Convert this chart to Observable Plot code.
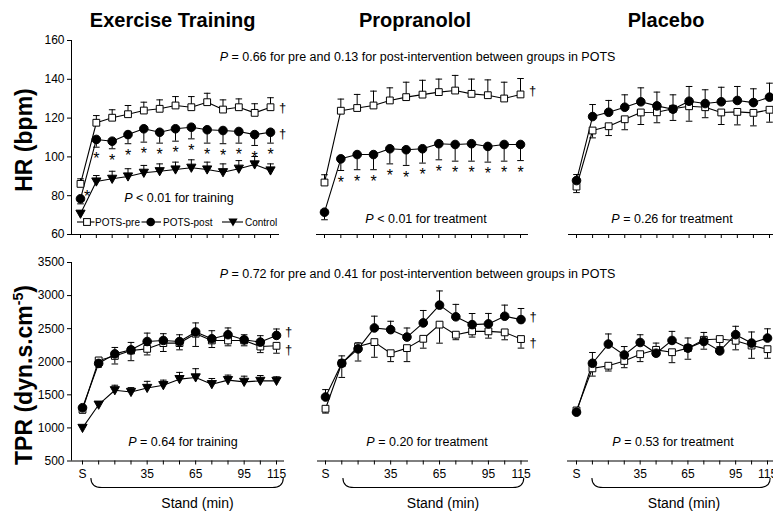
<!DOCTYPE html>
<html><head><meta charset="utf-8">
<script src="https://cdn.jsdelivr.net/npm/d3@7"></script>
<script src="https://cdn.jsdelivr.net/npm/@observablehq/plot@0.6"></script>
<style>
html,body{margin:0;padding:0;overflow:hidden;background:#fff;}
#wrap{position:relative;width:773px;height:514px;overflow:hidden;font-family:"Liberation Sans",Arial,Helvetica,sans-serif;color:#000;}
#wrap svg{position:absolute;left:0;top:0;}
.t{position:absolute;white-space:nowrap;line-height:1;transform:translate(-50%,-50%);}
</style></head>
<body><div id="wrap"></div>
<script>
// ---------- data ----------
const standLabels = ["S","5","15","25","35","45","55","65","75","85","95","105","115"];
const shownLabels = ["S","35","65","95","115"];
const hrTicks = [60,80,100,120,140,160];
const tprTicks = [500,1000,1500,2000,2500,3000,3500];
const groupTitles = ["Exercise Training","Propranolol","Placebo"];
const seriesNames = ["POTS-pre","POTS-post","Control"];

// HR (bpm): mean and SE
const exHrPre    = [86.1,117.6,120.2,122.0,123.9,124.8,126.5,125.6,128.2,124.4,125.6,122.7,125.6];
const exHrPreSE  = [2.6,3.7,4.1,4.5,4.3,4.6,4.6,5.5,4.6,5.0,4.3,4.7,4.9];
const exHrPost   = [78.4,109.0,108.1,111.5,114.5,112.7,114.5,115.3,114.0,113.6,113.1,111.5,112.7];
const exHrPostSE = [2.6,4.0,3.9,4.7,6.9,5.6,6.4,6.0,6.9,6.8,6.0,5.6,5.6];
const exHrCtrl   = [70.7,87.3,88.7,89.9,91.8,92.6,93.5,94.4,93.5,92.1,93.9,96.1,93.0];
const exHrCtrlSE = [1.5,3.1,3.9,4.0,3.8,3.8,3.8,4.1,3.8,4.3,4.2,4.1,3.4];

const propHrPre    = [86.8,123.8,125.2,126.5,129.1,130.8,132.1,133.4,134.2,132.5,131.8,130.1,132.2];
const propHrPreSE  = [4.0,6.0,7.0,7.4,6.5,7.7,7.4,6.7,7.8,7.6,7.9,8.4,8.2];
const propHrPost   = [71.5,99.0,101.2,101.2,104.2,103.7,104.2,106.8,106.4,106.8,105.4,106.4,106.4];
const propHrPostSE = [3.9,6.0,7.8,7.8,7.8,8.1,7.4,8.3,8.6,9.0,8.1,8.6,8.3];

const placHrPre    = [84.7,113.6,115.8,119.4,122.9,123.0,124.8,126.1,125.6,122.9,123.2,122.7,124.3];
const placHrPreSE  = [3.1,3.8,4.8,5.4,6.2,5.4,6.0,7.7,5.4,6.2,6.7,6.7,6.4];
const placHrPost   = [87.8,120.8,123.0,125.6,128.4,126.3,124.6,128.7,127.5,128.4,129.1,128.0,130.8];
const placHrPostSE = [3.1,6.2,6.1,6.4,7.2,7.1,7.4,7.6,7.1,7.5,7.2,7.1,7.2];

// TPR (dyn.s.cm-5): mean and SE
const exTprPre    = [1275,2020,2088,2169,2195,2282,2282,2424,2322,2322,2322,2230,2241];
const exTprPreSE  = [51,102,122,153,92,127,102,193,107,81,81,92,112];
const exTprPost   = [1305,1975,2119,2180,2306,2322,2306,2450,2347,2409,2332,2297,2398];
const exTprPostSE = [36,60,97,112,127,102,102,137,122,102,76,97,97];
const exTprCtrl   = [1000,1351,1569,1543,1604,1646,1737,1763,1661,1722,1696,1711,1711];
const exTprCtrlSE = [20,30,76,66,100,76,102,132,86,76,86,81,61];

const propTprPre    = [1290,1977,2230,2297,2129,2206,2347,2561,2409,2459,2459,2444,2343];
const propTprPreSE  = [66,214,219,229,127,204,142,280,76,86,102,112,137];
const propTprPost   = [1467,1977,2195,2511,2485,2373,2587,2856,2679,2561,2572,2688,2637];
const propTprPostSE = [112,112,90,178,127,137,188,214,188,168,158,168,168];

const placTprPre    = [1264,1900,1940,2012,2114,2180,2144,2206,2332,2343,2317,2245,2190];
const placTprPreSE  = [50,117,80,102,112,92,158,168,142,120,137,193,137];
const placTprPost   = [1238,1977,2267,2103,2291,2129,2322,2206,2306,2164,2409,2282,2358];
const placTprPostSE = [40,163,153,127,117,153,137,153,137,60,127,168,140];

// significance markers (indices of stand times with * under POTS-post)
const exHrStarIdx   = [1,2,3,4,5,6,7,8,9,10,11,12];
const propHrStarIdx = [1,2,3,4,5,6,7,8,9,10,11,12];
const exCtrlStarAt  = [0.42];
const exCtrlStarHr  = [81.5];

const pTexts = [
  "<i>P</i> = 0.66 for pre and 0.13 for post-intervention between groups in POTS",
  "<i>P</i> &lt; 0.01 for training",
  "<i>P</i> &lt; 0.01 for treatment",
  "<i>P</i> = 0.26 for treatment",
  "<i>P</i> = 0.72 for pre and 0.41 for post-intervention between groups in POTS",
  "<i>P</i> = 0.64 for training",
  "<i>P</i> = 0.20 for treatment",
  "<i>P</i> = 0.53 for treatment"
];

// ---------- layout ----------
const W = 773, H = 514;
const FONT = '"Liberation Sans", Arial, Helvetica, sans-serif';
const wrap = document.getElementById("wrap");

const rows = {
  hr:  {domain:[60,160],   top:40,  bottom:234,   ticks:hrTicks},
  tpr: {domain:[500,3500], top:262, bottom:460.5, ticks:tprTicks}
};
const frames = [
  {row:"hr",  l:71,  r:279, x0:80,  x12:270},
  {row:"hr",  l:316, r:528, x0:324, x12:520},
  {row:"hr",  l:568, r:780, x0:576, x12:769},
  {row:"tpr", l:71,  r:284, x0:82,  x12:276},
  {row:"tpr", l:317, r:528, x0:325, x12:520.5},
  {row:"tpr", l:567, r:780, x0:576, x12:767}
];
const panelSeries = [
  [["POTS-pre",exHrPre,exHrPreSE,1],["POTS-post",exHrPost,exHrPostSE,-1],["Control",exHrCtrl,exHrCtrlSE,1]],
  [["POTS-pre",propHrPre,propHrPreSE,1],["POTS-post",propHrPost,propHrPostSE,-1]],
  [["POTS-pre",placHrPre,placHrPreSE,-1],["POTS-post",placHrPost,placHrPostSE,1]],
  [["POTS-pre",exTprPre,exTprPreSE,-1],["POTS-post",exTprPost,exTprPostSE,1],["Control",exTprCtrl,exTprCtrlSE,1]],
  [["POTS-pre",propTprPre,propTprPreSE,-1],["POTS-post",propTprPost,propTprPostSE,1]],
  [["POTS-pre",placTprPre,placTprPreSE,-1],["POTS-post",placTprPost,placTprPostSE,1]]
];
const panelStars = [exHrStarIdx, propHrStarIdx, [], [], [], []];
// dagger: [series, vertical nudge in px]
const panelDaggers = [[["POTS-pre",1],["POTS-post",2]],[["POTS-pre",-4]],[],[["POTS-post",-4],["POTS-pre",4]],[["POTS-post",-3],["POTS-pre",4]],[]];
const braceSpan = [[0.55,12.45],[1.1,12.2],[1.0,12.2]];

const capSym = {draw(ctx){ctx.moveTo(-3.3,0);ctx.lineTo(3.3,0);}};
const squareSym = {draw(ctx){ctx.rect(-3.4,-3.4,6.8,6.8);}};
const triSym = {draw(ctx){ctx.moveTo(-4.6,-3.6);ctx.lineTo(4.6,-3.6);ctx.lineTo(0,4.6);ctx.closePath();}};
const symbolStyle = {
  "POTS-pre":  {symbol: squareSym, fill: "white"},
  "POTS-post": {r: 4.3, fill: "black"},
  "Control":   {symbol: triSym, fill: "black"}
};

frames.forEach((f, k) => {
  const row = rows[f.row];
  const step = (f.x12 - f.x0) / 12;
  const dom = [(f.l - f.x0) / step, (f.r - f.x0) / step];
  const marks = [Plot.ruleY([row.domain[0]], {x1: dom[0], x2: dom[1], stroke: "black", strokeWidth: 1})];
  if (k % 3 === 0) marks.push(Plot.ruleX([dom[0]], {y1: row.domain[0], y2: row.domain[1], stroke: "black", strokeWidth: 1}));
  const ser = panelSeries[k].map(([name, mean, se, dir]) => ({name, data: mean.map((m, i) => ({i, m, e: m + dir * se[i]}))}));
  for (const s of ser) {
    marks.push(Plot.ruleX(s.data, {x: "i", y1: "m", y2: "e", stroke: "black", strokeWidth: 1}));
    marks.push(Plot.dot(s.data, {x: "i", y: "e", symbol: capSym, fill: "none", stroke: "black", strokeWidth: 1}));
  }
  for (const s of ser) marks.push(Plot.line(s.data, {x: "i", y: "m", stroke: "black", strokeWidth: 1.1}));
  for (const s of ser) marks.push(Plot.dot(s.data, {x: "i", y: "m", ...symbolStyle[s.name], stroke: "black", strokeWidth: 1}));
  const post = ser.find(s => s.name === "POTS-post");
  if (panelStars[k].length) marks.push(Plot.text(post.data.filter(d => panelStars[k].includes(d.i)), {x: "i", y: "e", text: () => "*", dy: 12, fontSize: 16, fill: "black", fontFamily: FONT}));
  if (k === 0) marks.push(Plot.text(exCtrlStarAt.map((a, j) => ({i: a, m: exCtrlStarHr[j]})), {x: "i", y: "m", text: () => "*", dy: 4, fontSize: 16, fill: "black", fontFamily: FONT}));
  for (const [name, nudge] of panelDaggers[k]) {
    const s = ser.find(s => s.name === name);
    marks.push(Plot.text(s.data.filter(d => d.i === 12), {x: "i", y: "m", text: () => "\u2020", dx: 12, dy: nudge, fontSize: 13, fill: "black", fontFamily: FONT}));
  }
  const plot = Plot.plot({
    width: W, height: H,
    marginLeft: f.l, marginRight: Math.max(0, W - f.r), marginTop: row.top, marginBottom: H - row.bottom,
    style: {background: "transparent", fontFamily: FONT, fontSize: "12px", color: "black"},
    x: {domain: dom, range: [f.l, f.r], ticks: d3.range(13), tickSize: 4, tickPadding: 4, label: null,
        tickFormat: i => (f.row === "tpr" && shownLabels.includes(standLabels[i])) ? standLabels[i] : ""},
    y: k % 3 === 0
      ? {domain: row.domain, range: [row.bottom, row.top], ticks: row.ticks, tickSize: 4, tickPadding: 3, label: null, tickFormat: d3.format("d")}
      : {domain: row.domain, range: [row.bottom, row.top], axis: null},
    marks
  });
  wrap.appendChild(plot);
  if (f.row === "tpr") {
    const sx = plot.scale("x");
    const fx = typeof sx.apply === "function" ? v => sx.apply(v) : d3.scaleLinear(sx.domain, sx.range);
    const [a, b] = braceSpan[k % 3];
    const xa = fx(a), xb = fx(b), yt = 478, yb = 487.5, rr = 11;
    d3.select(plot).append("path")
      .attr("d", `M${xa},${yt} Q${xa},${yb} ${xa + rr},${yb} L${xb - rr},${yb} Q${xb},${yb} ${xb},${yt}`)
      .attr("fill", "none").attr("stroke", "black").attr("stroke-width", 1.1);
  }
});

// ---------- legend ----------
const leg = d3.select(wrap).append("svg").attr("width", W).attr("height", H);
const ly = 222;
const legendItems = [
  {name: seriesNames[0], x1: 77, x2: 94.5, mx: 87, tx: 95},
  {name: seriesNames[1], x1: 141.5, x2: 161, mx: 150.7, tx: 163},
  {name: seriesNames[2], x1: 222, x2: 243, mx: 233, tx: 245}
];
for (const it of legendItems) {
  leg.append("line").attr("x1", it.x1).attr("x2", it.x2).attr("y1", ly).attr("y2", ly).attr("stroke", "black").attr("stroke-width", 1.1);
  if (it.name === "POTS-pre") leg.append("rect").attr("x", it.mx - 3.4).attr("y", ly - 3.4).attr("width", 6.8).attr("height", 6.8).attr("fill", "white").attr("stroke", "black");
  else if (it.name === "POTS-post") leg.append("circle").attr("cx", it.mx).attr("cy", ly).attr("r", 4.3).attr("fill", "black");
  else leg.append("path").attr("d", `M${it.mx - 4.6},${ly - 3.6}L${it.mx + 4.6},${ly - 3.6}L${it.mx},${ly + 4.6}Z`).attr("fill", "black");
  leg.append("text").attr("x", it.tx).attr("y", ly + 3.6).attr("font-family", FONT).attr("font-size", 10).attr("fill", "black").text(it.name);
}

// ---------- html text ----------
function addText(html, x, y, css) {
  const d = document.createElement("div");
  d.className = "t";
  d.innerHTML = html;
  d.style.left = x + "px";
  d.style.top = y + "px";
  if (css) d.style.cssText += css;
  wrap.appendChild(d);
}
const titleX = [172.7, 415, 666];
groupTitles.forEach((t, i) => addText(t, titleX[i], 20, "font-weight:bold;font-size:20px;"));
addText("HR (bpm)", 24, 140, "font-weight:bold;font-size:23px;transform:translate(-50%,-50%) rotate(-90deg);");
addText('TPR (dyn.s.cm<span style="font-size:14px;position:relative;top:-9px">-5</span>)', 24, 375, "font-weight:bold;font-size:23px;transform:translate(-50%,-50%) rotate(-90deg);");
const pPos = [[417.5,57],[179,197.5],[426,218.5],[672,218.5],[417.5,273.5],[183,441.5],[427,441.5],[673,441.5]];
pTexts.forEach((t, i) => addText(t, pPos[i][0], pPos[i][1], "font-size:12.5px;"));
[197.5, 443, 684].forEach(x => addText("Stand (min)", x, 503, "font-size:14px;"));
</script>
</body></html>
